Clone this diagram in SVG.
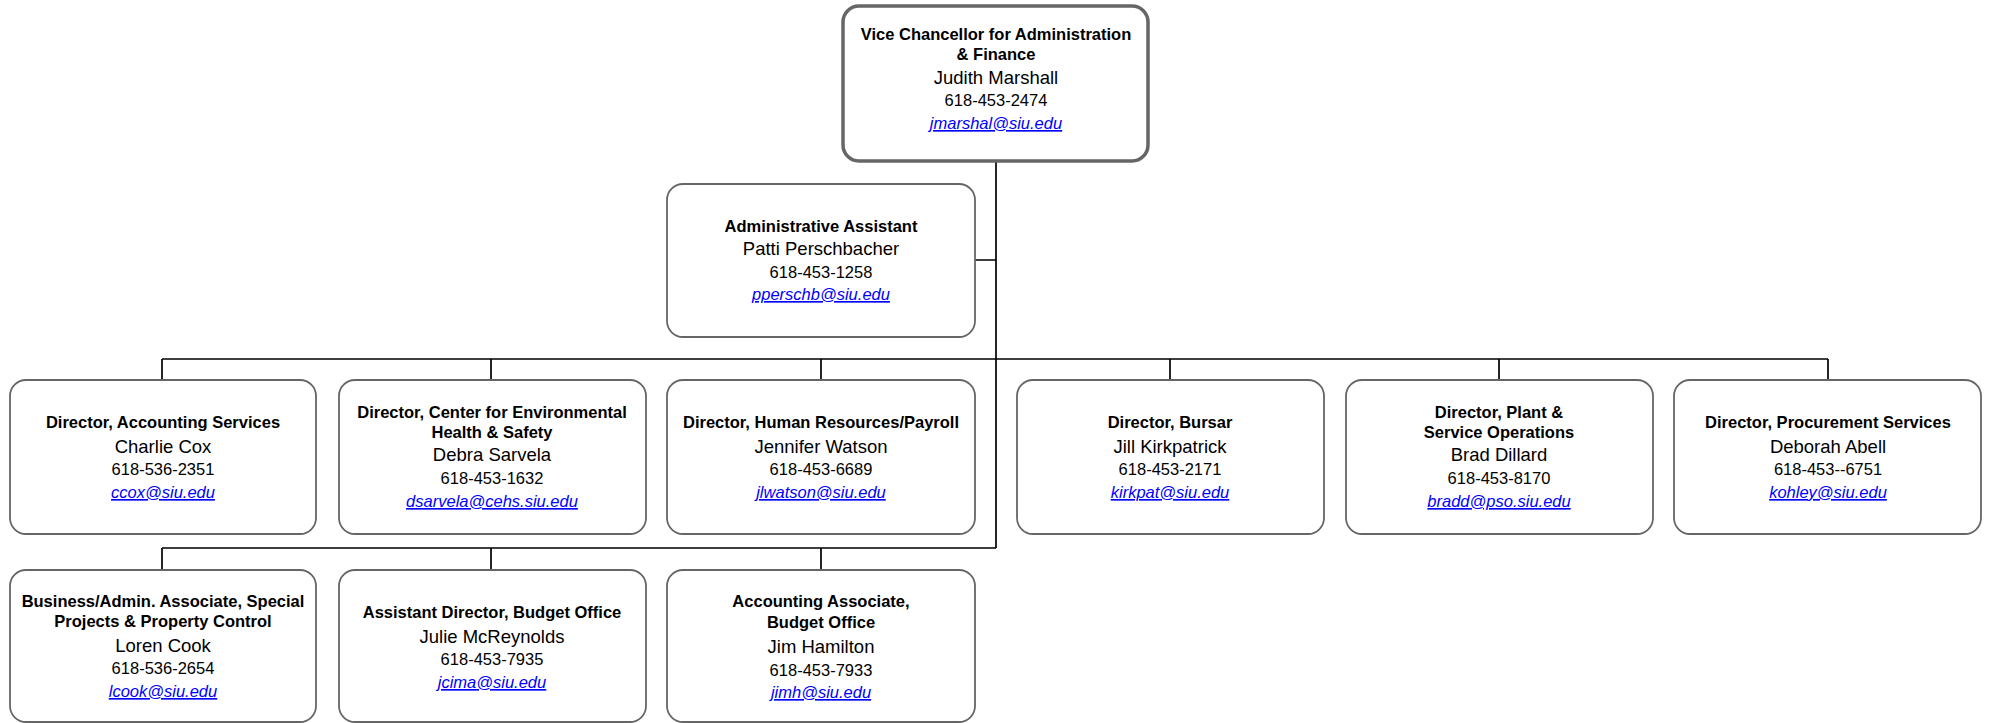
<svg xmlns="http://www.w3.org/2000/svg" width="1989" height="723" viewBox="0 0 1989 723">
<style>
.box{fill:#fff;stroke:#666;stroke-width:1.8}
.top{fill:#fff;stroke:#666;stroke-width:3.5}
.ln{fill:none;stroke:#000;stroke-width:1.7}
text{font-family:"Liberation Sans",Arial,sans-serif;text-anchor:middle;fill:#000}
.t{font-weight:bold;font-size:16.5px}
.n{font-size:18.5px}
.p{font-size:16.5px}
.e{font-size:16.5px;font-style:italic;fill:#0000ff;text-decoration:underline}
</style>
<rect width="1989" height="723" fill="#fff"/>
<g id="connectors">
<path class="ln" d="M996 161V548M975 260H996M162 359H1828M162 359V380M491 359V380M821 359V380M1170 359V380M1499 359V380M1828 359V380M162 548H996M162 548V570M491 548V570M821 548V570"/>
</g>
<g id="vc">
<rect class="top" x="843" y="6" width="305" height="155" rx="16"/>
<text x="996" y="40" class="t">Vice Chancellor for Administration</text>
<text x="996" y="60" class="t">&amp; Finance</text>
<text x="996" y="84" class="n">Judith Marshall</text>
<text x="996" y="106" class="p">618-453-2474</text>
<text x="996" y="129" class="e">jmarshal@siu.edu</text>
</g>
<g id="admin-assistant">
<rect class="box" x="667" y="184" width="308" height="153" rx="16"/>
<text x="821" y="232" class="t">Administrative Assistant</text>
<text x="821" y="255" class="n">Patti Perschbacher</text>
<text x="821" y="278" class="p">618-453-1258</text>
<text x="821" y="300" class="e">pperschb@siu.edu</text>
</g>
<g id="accounting">
<rect class="box" x="10" y="380" width="306" height="154" rx="16"/>
<text x="163" y="428" class="t">Director, Accounting Services</text>
<text x="163" y="453" class="n">Charlie Cox</text>
<text x="163" y="475" class="p">618-536-2351</text>
<text x="163" y="498" class="e">ccox@siu.edu</text>
</g>
<g id="cehs">
<rect class="box" x="339" y="380" width="307" height="154" rx="16"/>
<text x="492" y="418" class="t">Director, Center for Environmental</text>
<text x="492" y="438" class="t">Health &amp; Safety</text>
<text x="492" y="461" class="n">Debra Sarvela</text>
<text x="492" y="484" class="p">618-453-1632</text>
<text x="492" y="507" class="e">dsarvela@cehs.siu.edu</text>
</g>
<g id="hr">
<rect class="box" x="667" y="380" width="308" height="154" rx="16"/>
<text x="821" y="428" class="t">Director, Human Resources/Payroll</text>
<text x="821" y="453" class="n">Jennifer Watson</text>
<text x="821" y="475" class="p">618-453-6689</text>
<text x="821" y="498" class="e">jlwatson@siu.edu</text>
</g>
<g id="bursar">
<rect class="box" x="1017" y="380" width="307" height="154" rx="16"/>
<text x="1170" y="428" class="t">Director, Bursar</text>
<text x="1170" y="453" class="n">Jill Kirkpatrick</text>
<text x="1170" y="475" class="p">618-453-2171</text>
<text x="1170" y="498" class="e">kirkpat@siu.edu</text>
</g>
<g id="plant">
<rect class="box" x="1346" y="380" width="307" height="154" rx="16"/>
<text x="1499" y="418" class="t">Director, Plant &amp;</text>
<text x="1499" y="438" class="t">Service Operations</text>
<text x="1499" y="461" class="n">Brad Dillard</text>
<text x="1499" y="484" class="p">618-453-8170</text>
<text x="1499" y="507" class="e">bradd@pso.siu.edu</text>
</g>
<g id="procurement">
<rect class="box" x="1674" y="380" width="307" height="154" rx="16"/>
<text x="1828" y="428" class="t">Director, Procurement Services</text>
<text x="1828" y="453" class="n">Deborah Abell</text>
<text x="1828" y="475" class="p">618-453--6751</text>
<text x="1828" y="498" class="e">kohley@siu.edu</text>
</g>
<g id="business-admin">
<rect class="box" x="10" y="570" width="306" height="152" rx="16"/>
<text x="163" y="607" class="t">Business/Admin. Associate, Special</text>
<text x="163" y="627" class="t">Projects &amp; Property Control</text>
<text x="163" y="652" class="n">Loren Cook</text>
<text x="163" y="674" class="p">618-536-2654</text>
<text x="163" y="697" class="e">lcook@siu.edu</text>
</g>
<g id="budget-asst-director">
<rect class="box" x="339" y="570" width="307" height="152" rx="16"/>
<text x="492" y="618" class="t">Assistant Director, Budget Office</text>
<text x="492" y="643" class="n">Julie McReynolds</text>
<text x="492" y="665" class="p">618-453-7935</text>
<text x="492" y="688" class="e">jcima@siu.edu</text>
</g>
<g id="accounting-associate">
<rect class="box" x="667" y="570" width="308" height="152" rx="16"/>
<text x="821" y="607" class="t">Accounting Associate,</text>
<text x="821" y="628" class="t">Budget Office</text>
<text x="821" y="653" class="n">Jim Hamilton</text>
<text x="821" y="676" class="p">618-453-7933</text>
<text x="821" y="698" class="e">jimh@siu.edu</text>
</g>
</svg>
